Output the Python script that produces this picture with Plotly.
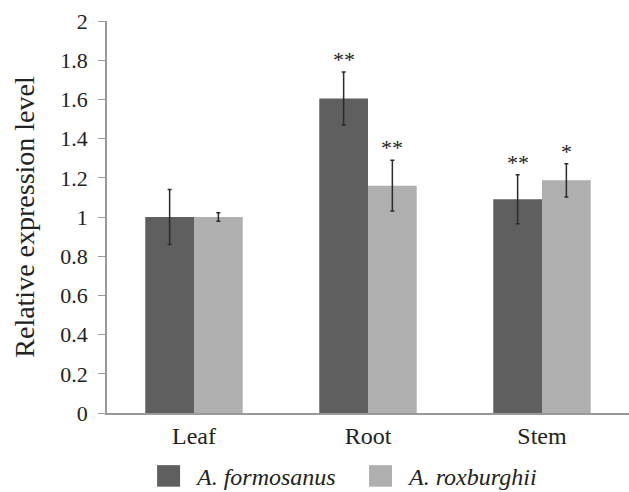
import plotly.graph_objects as go

categories = ["Leaf", "Root", "Stem"]
series_names = ["A. formosanus", "A. roxburghii"]
formosanus = [1.00, 1.605, 1.09]
formosanus_err = [0.14, 0.135, 0.125]
roxburghii = [1.00, 1.16, 1.187]
roxburghii_err = [0.022, 0.13, 0.085]
formosanus_sig = ["", "**", "**"]
roxburghii_sig = ["", "**", "*"]
y_ticks = [0, 0.2, 0.4, 0.6, 0.8, 1, 1.2, 1.4, 1.6, 1.8, 2]

colors = ["#5f5f5f", "#afafaf"]
font = "Liberation Serif"

fig = go.Figure()
for name, vals, errs, col in [
    (series_names[0], formosanus, formosanus_err, colors[0]),
    (series_names[1], roxburghii, roxburghii_err, colors[1]),
]:
    fig.add_trace(go.Bar(
        x=categories, y=vals, name=name, marker=dict(color=col, line=dict(width=0)),
        error_y=dict(type="data", array=errs, visible=True, color="#2a2a2a", thickness=1.5, width=2),
        showlegend=False,
    ))

half = 0.14
for i, (s1, s2) in enumerate(zip(formosanus_sig, roxburghii_sig)):
    for s, v, e, off in [(s1, formosanus[i], formosanus_err[i], -half), (s2, roxburghii[i], roxburghii_err[i], half)]:
        if s:
            fig.add_annotation(x=i + off, y=v + e, text=s, showarrow=False, yanchor="bottom",
                               yshift=-2, font=dict(family=font, size=22, color="#222"))

# legend drawn with shapes + text
leg = [(0.096, 0.140, 0.164, series_names[0], colors[0]),
       (0.502, 0.546, 0.571, series_names[1], colors[1])]
for x0, x1, xt, name, col in leg:
    fig.add_shape(type="rect", xref="paper", yref="paper", x0=x0, x1=x1, y0=-0.133, y1=-0.188,
                  fillcolor=col, line=dict(width=0))
    fig.add_annotation(xref="paper", yref="paper", x=xt, y=-0.163, text="<i>" + name + "</i>",
                       showarrow=False, xanchor="left", yanchor="middle",
                       font=dict(family=font, size=24, color="#222"))

fig.update_layout(
    width=629, height=492,
    margin=dict(l=107, r=0, t=21, b=79, autoexpand=False),
    plot_bgcolor="white", paper_bgcolor="white",
    barmode="group", bargap=0.44, bargroupgap=0,
    font=dict(family=font, size=22, color="#222"),
    xaxis=dict(showline=True, linecolor="#999", linewidth=1.5, ticks="", showgrid=False,
               tickfont=dict(family=font, size=24), range=[-0.5, 2.5], automargin=False),
    yaxis=dict(range=[0, 2], tickvals=y_ticks, ticktext=[f"{t:g}" for t in y_ticks],
               showline=True, linecolor="#999", linewidth=1.5, ticks="outside", ticklen=7,
               tickcolor="#999", showgrid=False, zeroline=False, tickfont=dict(family=font, size=22),
               ticklabelstandoff=6, automargin=False,
               title=dict(text="Relative expression level", font=dict(family=font, size=28), standoff=18)),
)

fig.write_html("out.html", config={"displayModeBar": False},
               post_script="document.body.style.margin='0';document.body.style.padding='0';")
